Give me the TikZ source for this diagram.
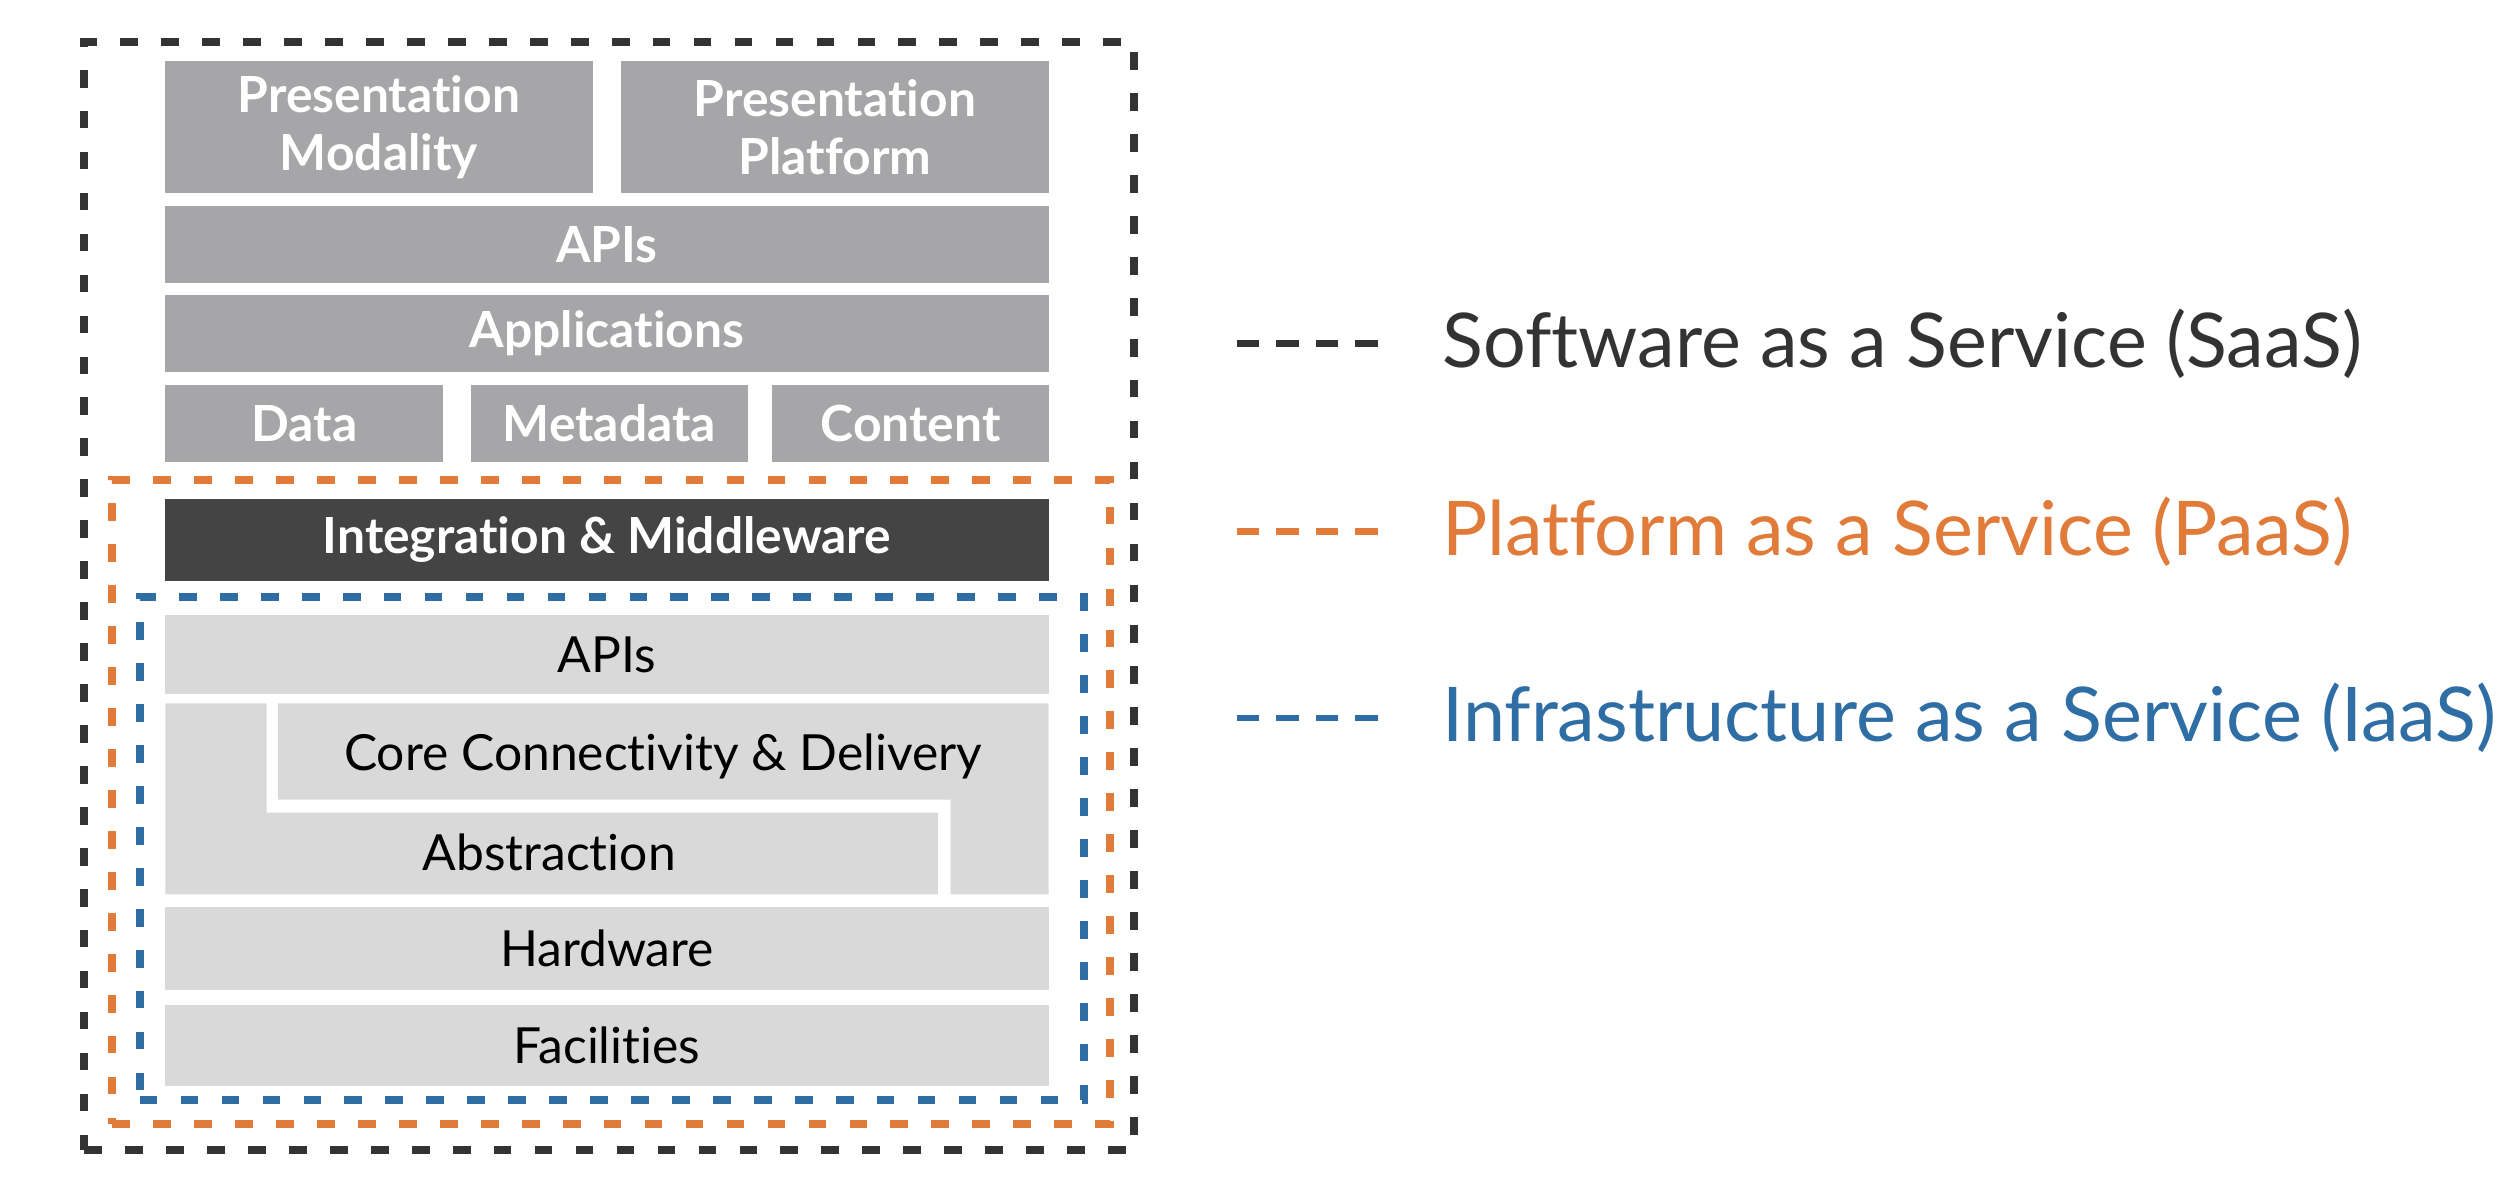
\documentclass[tikz,border=0pt]{standalone}
\usepackage{fontspec}
\setmainfont{Lato}[Ligatures=NoCommon]
\usetikzlibrary{positioning}

\definecolor{saasgray}{HTML}{333333}
\definecolor{paasorange}{HTML}{E07B39}
\definecolor{iaasblue}{HTML}{2F6DA5}
\definecolor{topgray}{HTML}{A6A6A8}
\definecolor{midgray}{HTML}{444444}
\definecolor{basegray}{HTML}{D9D9D9}

\begin{document}
\begin{tikzpicture}[x=1pt, y=-1pt,
        layer/.style={inner sep=0pt, outer sep=0pt, align=center, anchor=north west},
        topbox/.style={layer, fill=topgray, text=white,
          font=\fontsize{31}{36}\selectfont\bfseries},
        midbox/.style={layer, fill=midgray, text=white,
          font=\fontsize{31}{36}\selectfont\bfseries},
        basebox/.style={layer, fill=basegray, text=black,
          font=\fontsize{31}{36}\selectfont},
        baselabel/.style={inner sep=0pt, text=black, font=\fontsize{31}{36}\selectfont},
        frame/.style={layer, line width=5pt, dash pattern=on 11pt off 14.5pt},
        keyline/.style={line width=4pt, dash pattern=on 14pt off 10.6pt},
        keytext/.style={inner sep=0pt, anchor=west, font=\fontsize{47}{52}\selectfont}
      ]

      \useasboundingbox (0,0) rectangle (1568,735);

      % software layers
      \node[topbox, minimum width=266, minimum height=82] (presmod)  at (103,38) {Presentation\\Modality};
      \node[topbox, minimum width=266, minimum height=82] (presplat) at (387,38) {Presentation\\Platform};
      \node[topbox, minimum width=550, minimum height=47.5] (apis)   at (103,128.5) {APIs};
      \node[topbox, minimum width=550, minimum height=48] (apps)     at (103,183.5) {Applications};
      \node[topbox, minimum width=173, minimum height=48.5] (data)   at (103,239.5) {Data};
      \node[topbox, minimum width=173, minimum height=48.5] (meta)   at (293,239.5) {Metadata};
      \node[topbox, minimum width=172, minimum height=48.5] (content) at (481,239.5) {Content};

      % platform layer
      \node[midbox, minimum width=550, minimum height=51.5] (integ)  at (103,310.5) {Integration \& Middleware};

      % infrastructure layers
      \node[basebox, minimum width=550, minimum height=49] (infapis)  at (103,383) {APIs};
      \fill[basegray] (103,438) -- (166,438) -- (166,506) -- (584,506) -- (584,557) -- (103,557) -- cycle;
      \fill[basegray] (173,438) -- (653,438) -- (653,557) -- (592,557) -- (592,498) -- (173,498) -- cycle;
      \node[baselabel] (core)     at (413,471) {Core Connectivity \& Delivery};
      \node[baselabel] (abstract) at (342,531) {Abstraction};
      \node[basebox, minimum width=550, minimum height=52] (hardware) at (103,564.5) {Hardware};
      \node[basebox, minimum width=550, minimum height=50] (facil)    at (103,626) {Facilities};

      % service frames
      \node[frame, draw=saasgray,   minimum width=653.5, minimum height=690] (saas) at (52.5,26) {};
      \node[frame, draw=paasorange, minimum width=621,   minimum height=401] (paas) at (70,299) {};
      \node[frame, draw=iaasblue,   minimum width=588,   minimum height=313] (iaas) at (87,372) {};

      % legend
      \coordinate (saasa) at (770,214);
      \coordinate[right=88pt of saasa] (saasb);
      \coordinate (paasa) at (770,331);
      \coordinate[right=88pt of paasa] (paasb);
      \coordinate (iaasa) at (770,447);
      \coordinate[right=88pt of iaasa] (iaasb);
      \draw[keyline, saasgray]   (saasa) -- (saasb);
      \draw[keyline, paasorange] (paasa) -- (paasb);
      \draw[keyline, iaasblue]   (iaasa) -- (iaasb);
      \node[keytext, text=saasgray,   right=40pt of saasb] (saaskey) {Software as a Service (SaaS)};
      \node[keytext, text=paasorange, right=40pt of paasb] (paaskey) {Platform as a Service (PaaS)};
      \node[keytext, text=iaasblue,   right=40pt of iaasb] (iaaskey) {Infrastructure as a Service (IaaS)};

    \end{tikzpicture}
\end{document}
